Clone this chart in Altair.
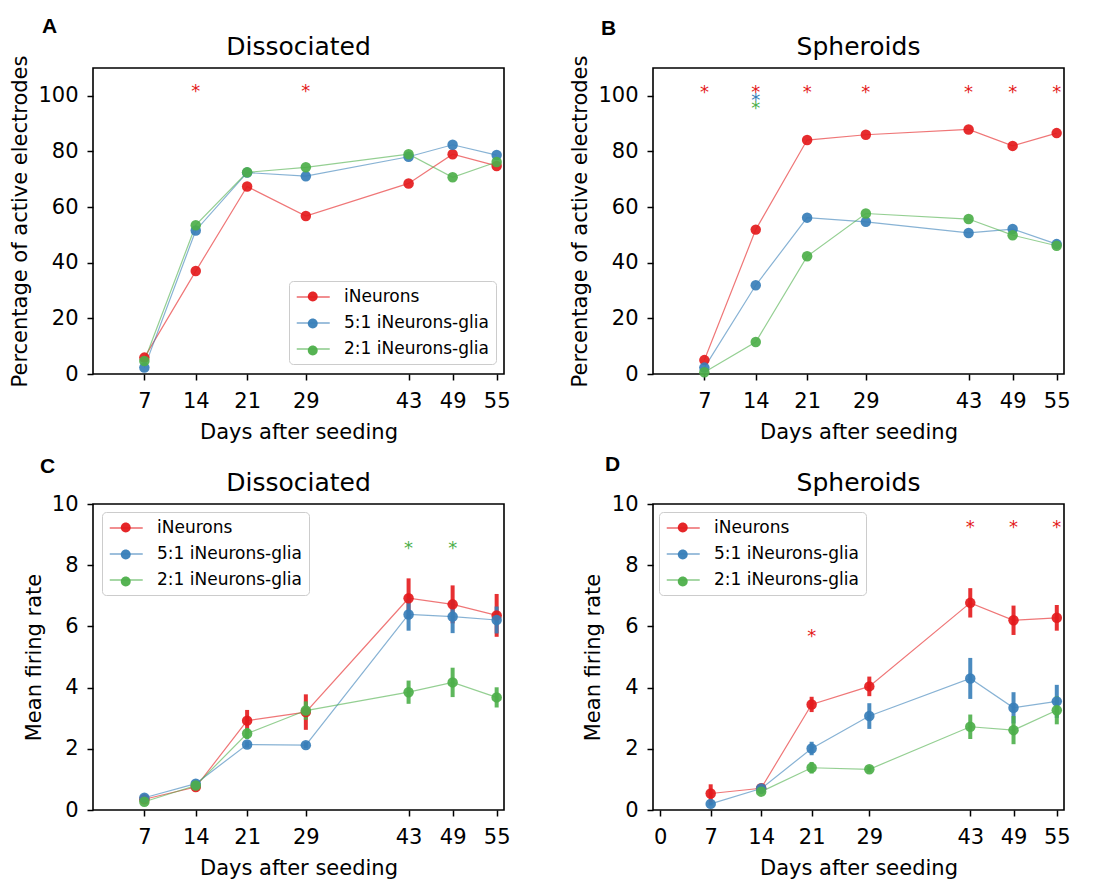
import altair as alt
import pandas as pd

# ---------------- data ----------------
days = [7, 14, 21, 29, 43, 49, 55]
series_names = ["iNeurons", "5:1 iNeurons-glia", "2:1 iNeurons-glia"]
series_colors = ["#e41a1c", "#377eb8", "#4daf4a"]

x_ticks = [7, 14, 21, 29, 43, 49, 55]
x_ticks_d = [0, 7, 14, 21, 29, 43, 49, 55]
pct_ticks = [0, 20, 40, 60, 80, 100]
rate_ticks = [0, 2, 4, 6, 8, 10]

# A: Dissociated, % active electrodes
a_ineurons = [5.9, 37.0, 67.4, 56.8, 68.5, 79.0, 74.8]
a_glia51 = [2.3, 51.6, 72.4, 71.1, 78.1, 82.4, 78.7]
a_glia21 = [4.7, 53.5, 72.5, 74.3, 79.0, 70.7, 76.2]

# B: Spheroids, % active electrodes
b_ineurons = [5.0, 51.9, 84.1, 86.0, 87.9, 82.0, 86.6]
b_glia51 = [2.3, 31.9, 56.2, 54.7, 50.7, 52.1, 46.7]
b_glia21 = [0.6, 11.5, 42.3, 57.7, 55.7, 49.9, 46.1]

# C: Dissociated, mean firing rate (+ error)
c_ineurons = [0.35, 0.75, 2.92, 3.20, 6.92, 6.72, 6.36]
c_ineurons_err = [0.08, 0.08, 0.35, 0.58, 0.65, 0.62, 0.70]
c_glia51 = [0.40, 0.86, 2.14, 2.12, 6.39, 6.32, 6.21]
c_glia51_err = [0.05, 0.08, 0.10, 0.10, 0.53, 0.54, 0.44]
c_glia21 = [0.27, 0.80, 2.50, 3.25, 3.85, 4.17, 3.68]
c_glia21_err = [0.05, 0.08, 0.18, 0.30, 0.38, 0.48, 0.33]

# D: Spheroids, mean firing rate (+ error)
d_ineurons = [0.54, 0.71, 3.45, 4.04, 6.77, 6.20, 6.28]
d_ineurons_err = [0.30, 0.08, 0.25, 0.32, 0.48, 0.48, 0.42]
d_glia51 = [0.20, 0.70, 2.01, 3.07, 4.30, 3.34, 3.55]
d_glia51_err = [0.05, 0.08, 0.22, 0.42, 0.67, 0.51, 0.54]
d_glia21 = [None, 0.60, 1.38, 1.33, 2.72, 2.61, 3.26]
d_glia21_err = [None, 0.08, 0.19, 0.10, 0.40, 0.46, 0.46]

# significance stars: day, height, series index
stars_a_day = [14, 29]
stars_a_y = [102.4, 102.4]
stars_a_ser = [0, 0]
stars_b_day = [7, 14, 21, 29, 43, 49, 55, 14, 14]
stars_b_y = [102.0, 102.0, 102.0, 102.0, 102.0, 102.0, 102.0, 99.3, 96.4]
stars_b_ser = [0, 0, 0, 0, 0, 0, 0, 1, 2]
stars_c_day = [43, 49]
stars_c_y = [8.62, 8.62]
stars_c_ser = [2, 2]
stars_d_day = [21, 43, 49, 55]
stars_d_y = [5.76, 9.3, 9.3, 9.3]
stars_d_ser = [0, 0, 0, 0]

FONT = "DejaVu Sans"
W, H = 411, 306

LINE_PATH = "M-1,0L3,0"
DOT_PATH = "M1.6,0A0.6,0.6,0,1,1,0.4,0A0.6,0.6,0,1,1,1.6,0Z"
marker_keys = ["m0", "m1", "m2"]   # keys of the (label-less) marker legend


def legend_pair(xy):
    common = dict(orient="none", legendX=xy[0], legendY=xy[1], title=None,
                  labelFont=FONT, labelFontSize=17, labelLimit=400,
                  symbolSize=272, padding=7, rowPadding=9, labelOffset=30)
    line_leg = alt.Legend(symbolType=LINE_PATH, symbolStrokeWidth=1.3, symbolOpacity=0.65,
                          labelColor="black", fillColor="rgba(255,255,255,0.85)",
                          strokeColor="#cccccc", cornerRadius=4, zindex=1, **common)
    dot_leg = alt.Legend(symbolType=DOT_PATH, symbolStrokeWidth=0, symbolOpacity=0.95,
                         labelOpacity=0, labelExpr="''", zindex=2, **common)
    return line_leg, dot_leg


def make_panel(means, errs, letter, letter_xy, title, ylabel, ydom, yticks,
               xdom, xticks, ytitle_x, stars, legend_xy):
    rows = []
    for k in range(3):
        for i, d in enumerate(days):
            m = means[k][i]
            if m is None:
                continue
            e = errs[k][i] if errs is not None else 0.0
            rows.append(dict(day=d, series=series_names[k], marker=marker_keys[k],
                             value=m, lo=m - e, hi=m + e, order=k))
    df = pd.DataFrame(rows)

    xscale = alt.Scale(domain=xdom, nice=False, zero=False)
    yscale = alt.Scale(domain=ydom, nice=False, zero=False)
    xaxis = alt.Axis(values=xticks, title="Days after seeding", format="d",
                     labelPadding=10, titlePadding=10)
    yaxis = alt.Axis(values=yticks, title=ylabel, format="d", labelPadding=9,
                     titleX=ytitle_x, titleBaseline="alphabetic", titleAngle=270)
    sscale = alt.Scale(domain=series_names, range=series_colors)
    fscale = alt.Scale(domain=marker_keys, range=series_colors)

    if legend_xy is not None:
        line_leg, dot_leg = legend_pair(legend_xy)
    else:
        line_leg, dot_leg = None, None

    X = alt.X("day:Q", scale=xscale, axis=xaxis)
    base = alt.Chart(df)
    lines = base.mark_line(strokeWidth=1.2, opacity=0.6).encode(
        x=X,
        y=alt.Y("value:Q", scale=yscale, axis=yaxis),
        stroke=alt.Stroke("series:N", scale=sscale, legend=line_leg, sort=series_names),
        order="day:Q",
    )
    layers = [lines]
    if errs is not None:
        rules = base.mark_rule(strokeWidth=4, opacity=0.9).encode(
            x=X,
            y=alt.Y("lo:Q", scale=yscale, axis=yaxis),
            y2="hi:Q",
            stroke=alt.Stroke("series:N", scale=sscale, legend=line_leg, sort=series_names),
        )
        layers.append(rules)

    points = base.mark_circle(size=110, opacity=0.92).encode(
        x=X,
        y=alt.Y("value:Q", scale=yscale, axis=yaxis),
        fill=alt.Fill("marker:N", scale=fscale, legend=dot_leg, sort=marker_keys),
        order="order:Q",
    )
    layers.append(points)

    for k in range(3):
        sd = [stars[0][j] for j in range(len(stars[0])) if stars[2][j] == k]
        sy = [stars[1][j] for j in range(len(stars[0])) if stars[2][j] == k]
        if not sd:
            continue
        sdf = pd.DataFrame({"day": sd, "sy": sy})
        layers.append(alt.Chart(sdf).mark_text(
            text="*", font=FONT, fontSize=18, baseline="middle", dy=3, color=series_colors[k]
        ).encode(x=X, y=alt.Y("sy:Q", scale=yscale, axis=yaxis)))

    title_layer = alt.Chart(pd.DataFrame({"t": [title]})).mark_text(
        font=FONT, fontSize=25, align="center", baseline="alphabetic", color="black"
    ).encode(text="t:N", x=alt.value(W / 2), y=alt.value(-13.5))
    letter_layer = alt.Chart(pd.DataFrame({"t": [letter]})).mark_text(
        font="Liberation Sans", fontWeight="bold", fontSize=21, align="left",
        baseline="alphabetic", color="black"
    ).encode(text="t:N", x=alt.value(letter_xy[0]), y=alt.value(letter_xy[1]))
    layers += [title_layer, letter_layer]

    return alt.layer(*layers).properties(width=W, height=H)


pa = make_panel([a_ineurons, a_glia51, a_glia21], None, "A", (-51, -35), "Dissociated",
                "Percentage of active electrodes", [0, 110], pct_ticks, [0, 56], x_ticks,
                -67, (stars_a_day, stars_a_y, stars_a_ser), (196, 213))
pb = make_panel([b_ineurons, b_glia51, b_glia21], None, "B", (-52, -33.5), "Spheroids",
                "Percentage of active electrodes", [0, 110], pct_ticks, [0, 56], x_ticks,
                -67, (stars_b_day, stars_b_y, stars_b_ser), None)
pc = make_panel([c_ineurons, c_glia51, c_glia21],
                [c_ineurons_err, c_glia51_err, c_glia21_err], "C", (-53, -31), "Dissociated",
                "Mean firing rate", [0, 10], rate_ticks, [0, 56], x_ticks,
                -53, (stars_c_day, stars_c_y, stars_c_ser), (9, 8))
pd_ = make_panel([d_ineurons, d_glia51, d_glia21],
                 [d_ineurons_err, d_glia51_err, d_glia21_err], "D", (-48, -33.5), "Spheroids",
                 "Mean firing rate", [0, 10], rate_ticks, [-1, 56], x_ticks_d,
                 -54, (stars_d_day, stars_d_y, stars_d_ser), (6, 8))

chart = alt.concat(pa, pb, pc, pd_, columns=2, spacing={"row": 9, "column": 57}).resolve_scale(
    stroke="independent", fill="independent", x="independent", y="independent"
).resolve_legend(stroke="independent", fill="independent").properties(
    padding={"left": 0, "top": 7, "right": 0, "bottom": 0}
).configure_view(
    stroke="black", strokeWidth=1.6
).configure_axis(
    grid=False, domain=False, labelFont=FONT, labelFontSize=21, labelColor="black",
    titleFont=FONT, titleFontSize=21, titleFontWeight="normal", titleColor="black",
    tickColor="black", tickWidth=1.5, tickSize=6, labelFlush=False, labelOverlap=False,
)

chart.save("out.html", embed_options={"renderer": "svg", "actions": False})
